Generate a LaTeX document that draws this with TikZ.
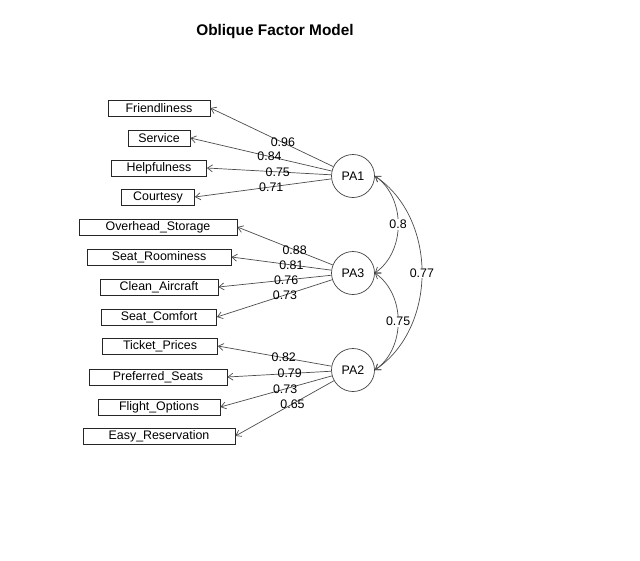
\documentclass[tikz,border=0pt]{standalone}
\usepackage{fontspec}
\setmainfont{Liberation Sans}
\usetikzlibrary{arrows.meta}
\begin{document}
\begin{tikzpicture}[x=1pt,y=-1pt]
\tikzset{item/.style = {shape=rectangle,draw=black!85,line width=0.8pt,minimum height=16pt,inner sep=0pt,font=\fontsize{12.4}{14}\selectfont}}
\tikzset{factor/.style = {shape=circle,draw=black!75,line width=0.7pt,minimum size=43pt,inner sep=0pt,font=\fontsize{12.4}{14}\selectfont}}
\tikzset{load/.style = {draw=black!70,line width=0.7pt,-{Straight Barb[length=5pt,width=7pt]}}}
\tikzset{corr/.style = {draw=black!70,line width=0.7pt,{Straight Barb[length=5pt,width=7pt]}-{Straight Barb[length=5pt,width=7pt]}}}
\tikzset{lbl/.style = {font=\fontsize{12.4}{14}\selectfont,inner sep=1pt}}
\useasboundingbox (0,0) rectangle (640,560);
\node[font=\bfseries\fontsize{15.4}{18}\selectfont] (title) at (275,32) {Oblique Factor Model};
% factors
\node[factor] (PA1) at (353,176) {PA1};
\node[factor] (PA3) at (353,273) {PA3};
\node[factor] (PA2) at (353,370) {PA2};
% items of PA1
\node[item,minimum width=102pt] (friend) at (159,108) {Friendliness};
\node[item,minimum width=62pt] (serv) at (159,138) {Service};
\node[item,minimum width=95pt] (help) at (159,168) {Helpfulness};
\node[item,minimum width=73pt] (court) at (158,197) {Courtesy};
% items of PA3
\node[item,minimum width=158pt] (store) at (158,227) {Overhead\_Storage};
\node[item,minimum width=144pt] (room) at (159,257) {Seat\_Roominess};
\node[item,minimum width=118pt] (clean) at (159,287) {Clean\_Aircraft};
\node[item,minimum width=115pt] (comf) at (159,317) {Seat\_Comfort};
% items of PA2
\node[item,minimum width=115pt] (ticket) at (160,346) {Ticket\_Prices};
\node[item,minimum width=138pt] (pref) at (158,377) {Preferred\_Seats};
\node[item,minimum width=122pt] (flight) at (159,407) {Flight\_Options};
\node[item,minimum width=152pt] (easy) at (159,436) {Easy\_Reservation};
% loadings
\draw[load] (PA1) -- (friend.east) node[lbl,pos=0.41] {0.96};
\draw[load] (PA1) -- (serv.east) node[lbl,pos=0.44] {0.84};
\draw[load] (PA1) -- (help.east) node[lbl,pos=0.43] {0.75};
\draw[load] (PA1) -- (court.east) node[lbl,pos=0.44] {0.71};
\draw[load] (PA3) -- (store.east) node[lbl,pos=0.40] {0.88};
\draw[load] (PA3) -- (room.east) node[lbl,pos=0.40] {0.81};
\draw[load] (PA3) -- (clean.east) node[lbl,pos=0.40] {0.76};
\draw[load] (PA3) -- (comf.east) node[lbl,pos=0.41] {0.73};
\draw[load] (PA2) -- (ticket.east) node[lbl,pos=0.42] {0.82};
\draw[load] (PA2) -- (pref.east) node[lbl,pos=0.40] {0.79};
\draw[load] (PA2) -- (flight.east) node[lbl,pos=0.42] {0.73};
\draw[load] (PA2) -- (easy.east) node[lbl,pos=0.42] {0.65};
% factor correlations
\draw[corr] (PA1.east) to[bend left=55] node[lbl,fill=white] {0.8} (PA3.east);
\draw[corr] (PA3.east) to[bend left=55] node[lbl,fill=white] {0.75} (PA2.east);
\draw[corr] (PA1.east) to[bend left=56] node[lbl,fill=white] {0.77} (PA2.east);
\end{tikzpicture}
\end{document}
